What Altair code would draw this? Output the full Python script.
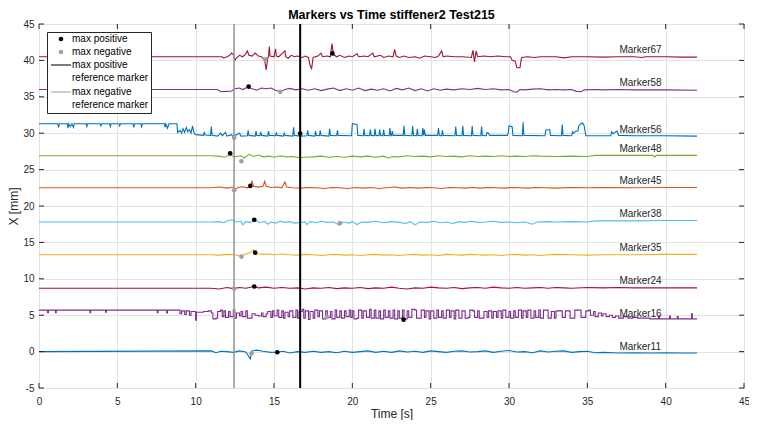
import altair as alt
import pandas as pd

FONT = "Liberation Sans, Arial, Helvetica, sans-serif"
W, H = 705, 364

MARKERS = ["Marker11", "Marker16", "Marker24", "Marker35", "Marker38",
           "Marker45", "Marker48", "Marker56", "Marker58", "Marker67"]
COLORS = ["#0072BD", "#7E2F8E", "#A2142F", "#EDB120", "#4DBEEE",
          "#D95319", "#77AC30", "#0072BD", "#7E2F8E", "#A2142F"]
LABEL_T = [37.05, 37.05, 37.05, 37.05, 37.05, 37.05, 37.05, 37.05, 37.05, 37.05]
LABEL_Y = [0.68, 5.19, 9.66, 14.18, 18.9, 23.44, 27.8, 30.4, 36.86, 41.4]

POS_T = [15.21, 23.27, 13.74, 13.80, 13.74, 13.49, 12.20, 16.67, 13.38, 18.73]
POS_Y = [-0.09, 4.38, 8.94, 13.59, 18.11, 22.76, 27.24, 29.95, 36.41, 40.96]
NEG_T = [13.57, 18.37, 12.46, 12.92, 19.21, 12.46, 12.92, 12.46, 15.40, 14.44]
NEG_Y = [-0.23, 4.74, 8.67, 13.05, 17.66, 22.18, 26.15, 29.36, 35.68, 40.15]

REF_POS_T = 16.67
REF_NEG_T = 12.45

KINDS = ["max positive", "max negative",
         "max positive|reference marker", "max negative|reference marker"]
KIND_COLORS = ["#000000", "#a0a0a0", "#000000", "#a0a0a0"]
LINE_PATH = "M-4.26,-0.22L4.26,-0.22L4.26,0.22L-4.26,0.22Z"
KIND_SHAPES = ["circle", "circle", LINE_PATH, LINE_PATH]

XTICKS = [0, 5, 10, 15, 20, 25, 30, 35, 40, 45]
YTICKS = [-5, 0, 5, 10, 15, 20, 25, 30, 35, 40, 45]

M11 = [(0, 0.0), (11.0, 0.1), (11.3, -0.15), (11.6, 0.05), (12.0, 0.0), (12.4, -0.1), (12.8, 0.1),
       (13.2, -0.05), (13.5, -1.0), (13.55, -0.2), (13.6, 0.1), (13.9, 0.2), (14.3, 0.05), (14.8, -0.1),
       (15.2, -0.05), (15.6, 0.05), (16.0, -0.2), (16.5, 0.0), (17.0, -0.1), (17.5, 0.05), (18.0, -0.1),
       (18.5, 0.0), (19.0, -0.15), (19.5, 0.05), (20.0, -0.1), (20.5, 0.0), (21.0, 0.1), (21.5, -0.1),
       (22.0, 0.05), (22.5, -0.1), (23.0, 0.1), (23.5, -0.05), (24.0, 0.05), (24.5, -0.1), (25.0, 0.1),
       (25.5, 0.0), (26.0, -0.1), (26.5, 0.05), (27.0, 0.1), (27.5, -0.05), (28.0, 0.0), (28.5, 0.1),
       (29.0, -0.1), (29.5, 0.05), (30.0, 0.15), (30.5, -0.05), (31.0, 0.0), (31.5, -0.15), (32.0, 0.1),
       (32.5, -0.05), (33.0, 0.05), (33.5, 0.1), (34.0, -0.1), (34.5, 0.0), (35.0, 0.05), (35.5, -0.15),
       (36.0, -0.1), (37.0, -0.2), (38.0, -0.15), (39.0, -0.2), (40.0, -0.15), (41.0, -0.2), (42.0, -0.2)]

M16 = [(0, 5.7), (0.5, 5.7), (0.55, 5.35), (0.6, 5.7), (1.0, 5.7), (1.05, 5.35), (1.1, 5.7), (3.2, 5.7),
       (3.25, 5.35), (3.3, 5.7), (4.2, 5.7), (4.25, 5.4), (4.3, 5.7), (7.5, 5.7), (7.55, 5.35), (7.6, 5.7),
       (8.1, 5.7), (8.15, 5.3), (8.2, 5.7), (8.8, 5.7), (9.0, 5.2), (9.1, 5.6), (9.3, 5.1), (9.4, 5.6),
       (9.6, 5.0), (9.7, 5.5), (9.9, 5.5), (10.0, 4.3), (10.05, 5.4), (10.5, 5.5), (10.8, 5.6), (11.0, 5.3),
       (11.1, 4.5), (11.3, 4.6), (11.4, 5.5), (11.6, 5.7), (11.7, 4.8), (11.8, 5.6), (11.9, 4.7), (12.1, 5.5),
       (12.2, 4.8), (12.4, 5.7), (12.5, 4.6), (12.6, 5.3), (12.8, 4.9), (12.9, 5.5), (13.0, 4.8), (13.2, 5.6),
       (13.3, 4.6), (13.5, 4.6), (13.6, 5.2), (13.8, 5.0), (14.0, 4.9), (14.2, 5.3), (14.3, 4.8), (14.5, 5.2),
       (14.6, 5.5), (14.8, 4.7), (14.9, 5.6), (15.0, 4.9), (15.2, 5.7), (15.3, 4.7), (15.5, 5.6), (15.6, 4.6),
       (15.7, 5.4), (15.9, 4.8), (16.0, 5.6), (16.2, 4.7), (16.4, 5.7), (16.5, 4.6), (16.6, 5.5), (16.8, 5.8),
       (16.9, 4.6), (17.0, 5.6), (17.2, 4.4), (17.3, 5.5), (17.5, 4.6), (17.6, 5.7), (17.8, 4.8), (17.9, 5.6),
       (18.1, 4.5), (18.3, 5.6), (18.4, 4.7), (18.6, 5.5), (18.7, 4.5), (18.9, 5.7), (19.0, 4.7), (19.2, 5.6),
       (19.3, 4.6), (19.5, 5.6), (19.6, 4.8), (19.8, 5.7), (19.9, 4.7), (20.0, 5.6), (20.1, 4.5), (20.3, 4.6),
       (20.4, 5.7), (20.6, 4.6), (20.7, 5.6), (20.9, 4.7), (21.1, 5.8), (21.2, 4.6), (21.4, 5.7), (21.5, 4.6),
       (21.7, 5.6), (21.8, 4.5), (22.0, 5.7), (22.1, 4.7), (22.3, 5.6), (22.4, 4.6), (22.6, 5.7), (22.7, 4.5),
       (22.9, 5.6), (23.0, 4.6), (23.2, 5.7), (23.3, 4.5), (23.5, 5.6), (23.6, 4.7), (23.8, 5.8), (24.0, 5.7),
       (24.1, 4.6), (24.3, 4.6), (24.4, 5.7), (24.6, 4.7), (24.7, 5.6), (24.9, 4.5), (25.0, 5.6), (25.2, 4.6),
       (25.4, 5.7), (25.5, 4.7), (25.7, 5.6), (25.8, 4.6), (26.0, 5.7), (26.2, 4.7), (26.3, 5.6), (26.5, 4.5),
       (26.6, 5.7), (26.8, 4.6), (27.0, 5.6), (27.1, 5.6), (27.2, 4.6), (27.4, 4.7), (27.5, 5.7), (27.7, 5.6),
       (27.8, 4.7), (28.0, 5.6), (28.1, 4.6), (28.3, 4.6), (28.4, 5.5), (28.6, 4.7), (28.7, 5.6), (28.9, 4.6),
       (29.0, 5.5), (29.2, 4.7), (29.3, 5.6), (29.5, 4.6), (29.6, 5.7), (29.8, 4.7), (30.0, 5.5), (30.1, 4.6),
       (30.3, 5.6), (30.4, 4.7), (30.6, 5.7), (30.8, 4.6), (30.9, 5.6), (31.1, 4.7), (31.2, 5.7), (31.4, 4.6),
       (31.6, 5.6), (31.7, 4.7), (31.9, 5.7), (32.0, 4.6), (32.2, 5.7), (32.4, 5.7), (32.5, 4.6), (32.7, 5.5),
       (32.9, 4.6), (33.0, 5.6), (33.3, 5.6), (33.4, 4.7), (33.6, 5.6), (33.8, 5.6), (33.9, 4.6), (34.1, 4.6),
       (34.2, 5.7), (34.5, 5.7), (34.6, 4.7), (34.8, 4.7), (34.9, 5.6), (35.1, 5.7), (35.2, 5.0), (35.4, 5.5),
       (35.5, 4.8), (35.7, 5.3), (35.9, 4.9), (36.0, 5.2), (36.2, 4.8), (36.4, 5.0), (36.6, 4.7), (36.8, 4.9),
       (37.0, 4.6), (37.3, 4.8), (37.6, 4.6), (37.9, 4.7), (38.2, 4.6), (38.5, 4.6), (39.0, 4.5), (39.5, 4.5),
       (39.55, 4.9), (39.6, 4.5), (40.2, 4.5), (40.25, 4.9), (40.3, 4.5), (40.7, 4.5), (40.75, 4.8), (40.8, 4.5),
       (41.6, 4.5), (41.65, 5.2), (41.7, 4.5), (42.0, 4.5)]

M24 = [(0, 8.7), (11.0, 8.7), (11.5, 8.6), (12.0, 8.8), (12.4, 8.65), (12.8, 8.8), (13.2, 8.7), (13.5, 8.85),
       (13.7, 8.95), (14.0, 8.75), (14.5, 8.85), (15.0, 8.7), (15.5, 8.8), (16.0, 8.7), (16.5, 8.75), (17.0, 8.6),
       (17.5, 8.75), (18.0, 8.7), (18.5, 8.8), (19.0, 8.65), (19.5, 8.75), (20.0, 8.7), (20.5, 8.8), (21.0, 8.65),
       (21.5, 8.75), (22.0, 8.7), (22.5, 8.85), (23.0, 8.7), (23.5, 8.6), (24.0, 8.75), (24.5, 8.7), (25.0, 8.85),
       (25.5, 8.75), (26.0, 8.7), (26.5, 8.8), (27.0, 8.65), (27.5, 8.75), (28.0, 8.8), (28.5, 8.7), (29.0, 8.85),
       (29.5, 8.75), (30.0, 8.7), (30.5, 8.8), (31.0, 8.7), (31.5, 8.75), (32.0, 8.8), (32.5, 8.7), (33.0, 8.8),
       (33.5, 8.75), (34.0, 8.7), (35.0, 8.8), (36.0, 8.75), (37.0, 8.8), (38.0, 8.75), (40.0, 8.75), (42.0, 8.75)]

M35 = [(0, 13.3), (11.0, 13.3), (11.5, 13.25), (12.0, 13.35), (12.5, 13.3), (12.9, 13.1), (13.1, 13.35),
       (13.5, 13.6), (13.7, 14.0), (13.8, 13.6), (14.0, 13.45), (14.3, 13.35), (14.7, 13.4), (15.0, 13.3),
       (15.5, 13.4), (16.0, 13.3), (16.5, 13.25), (17.0, 13.35), (17.5, 13.3), (18.0, 13.2), (18.5, 13.3),
       (19.0, 13.35), (19.5, 13.25), (20.0, 13.3), (20.5, 13.2), (21.0, 13.3), (21.5, 13.35), (22.0, 13.25),
       (22.5, 13.3), (23.0, 13.2), (23.5, 13.3), (24.0, 13.35), (24.5, 13.25), (25.0, 13.3), (25.5, 13.2),
       (26.0, 13.35), (26.5, 13.3), (27.0, 13.25), (27.5, 13.35), (28.0, 13.3), (28.5, 13.25), (29.0, 13.3),
       (29.5, 13.2), (30.0, 13.3), (30.5, 13.35), (31.0, 13.25), (31.5, 13.3), (32.0, 13.2), (32.5, 13.3),
       (33.0, 13.35), (34.0, 13.3), (35.0, 13.25), (36.0, 13.3), (38.0, 13.3), (40.0, 13.35), (42.0, 13.35)]

M38 = [(0, 17.8), (11.0, 17.8), (11.5, 17.85), (11.8, 17.7), (12.0, 17.95), (12.3, 18.1), (12.6, 17.8),
       (12.9, 17.9), (13.0, 17.4), (13.2, 17.85), (13.5, 17.75), (13.8, 18.1), (14.1, 17.7), (14.4, 17.9),
       (14.6, 17.5), (14.8, 17.8), (15.1, 17.65), (15.4, 17.9), (15.7, 17.75), (16.0, 17.85), (16.3, 17.65),
       (16.7, 17.75), (17.0, 17.8), (17.1, 17.45), (17.3, 17.85), (17.7, 17.7), (18.0, 17.9), (18.4, 17.75),
       (18.8, 17.8), (19.2, 17.35), (19.4, 17.8), (19.8, 17.65), (20.0, 17.85), (20.3, 17.45), (20.6, 17.8),
       (21.0, 17.75), (21.5, 17.9), (22.0, 17.7), (22.5, 17.85), (23.0, 17.75), (23.4, 17.6), (23.7, 17.85),
       (24.0, 17.4), (24.3, 17.8), (24.8, 17.75), (25.2, 17.9), (25.6, 17.7), (26.0, 17.8), (26.4, 17.6),
       (26.8, 17.85), (27.2, 17.75), (27.6, 17.9), (28.0, 17.75), (28.5, 17.8), (29.0, 17.9), (29.5, 17.75),
       (30.0, 17.8), (30.5, 17.7), (31.0, 17.8), (31.5, 17.5), (31.8, 17.8), (32.5, 17.85), (33.0, 17.8),
       (34.0, 17.85), (35.0, 17.8), (35.5, 17.95), (36.0, 17.95), (38.0, 17.95), (40.0, 18.0), (42.0, 18.0)]

M45 = [(0, 22.5), (11.0, 22.5), (11.5, 22.6), (12.0, 22.45), (12.4, 22.6), (12.5, 22.2), (12.7, 22.55),
       (13.0, 22.65), (13.3, 22.5), (13.5, 22.8), (13.6, 23.4), (13.7, 22.7), (14.0, 22.6), (14.3, 22.7),
       (14.4, 23.4), (14.5, 22.7), (14.8, 22.55), (15.2, 22.6), (15.5, 22.5), (15.7, 23.3), (15.8, 22.6),
       (16.2, 22.5), (16.7, 22.45), (17.2, 22.55), (17.7, 22.5), (18.2, 22.4), (18.7, 22.55), (19.2, 22.5),
       (19.7, 22.4), (20.2, 22.55), (20.7, 22.45), (21.2, 22.55), (21.7, 22.4), (22.2, 22.5), (22.7, 22.6),
       (23.2, 22.45), (23.7, 22.55), (24.2, 22.45), (24.7, 22.55), (25.2, 22.5), (25.7, 22.4), (26.2, 22.55),
       (26.7, 22.5), (27.2, 22.45), (27.7, 22.55), (28.2, 22.45), (28.7, 22.55), (29.2, 22.5), (29.7, 22.45),
       (30.2, 22.55), (30.7, 22.5), (31.2, 22.45), (31.7, 22.55), (32.2, 22.5), (33.0, 22.45), (34.0, 22.55),
       (35.0, 22.5), (36.0, 22.55), (38.0, 22.5), (40.0, 22.55), (42.0, 22.55)]

M48 = [(0, 26.9), (11.0, 26.9), (11.5, 26.85), (11.8, 26.7), (12.2, 27.0), (12.5, 26.75), (12.9, 26.9),
       (13.1, 26.6), (13.4, 27.1), (13.7, 26.8), (14.0, 27.0), (14.3, 26.75), (14.7, 26.85), (15.0, 26.7),
       (15.4, 26.9), (15.8, 26.75), (16.2, 26.8), (16.6, 26.65), (17.0, 26.7), (17.5, 26.75), (18.0, 26.85),
       (18.5, 26.7), (19.0, 26.8), (19.5, 26.7), (20.0, 26.85), (20.5, 26.75), (21.0, 26.85), (21.5, 26.7),
       (22.0, 26.85), (22.3, 26.6), (22.6, 26.8), (23.0, 26.75), (23.5, 26.9), (24.0, 26.8), (24.5, 26.85),
       (25.0, 26.75), (25.5, 26.9), (26.0, 26.8), (26.5, 26.85), (27.0, 26.75), (27.5, 26.9), (28.0, 26.8),
       (28.5, 26.85), (29.0, 26.8), (29.5, 26.9), (30.0, 26.8), (30.5, 26.85), (31.0, 26.8), (31.5, 26.9),
       (32.0, 26.85), (33.0, 26.8), (34.0, 26.85), (35.0, 26.8), (35.5, 26.95), (36.0, 26.95), (38.0, 26.95),
       (39.2, 26.95), (39.3, 26.7), (39.4, 26.95), (41.0, 26.95), (42.0, 26.95)]

M56 = [(0, 31.3), (1.2, 31.3), (1.25, 30.8), (1.3, 31.3), (1.8, 31.3), (1.85, 30.7), (1.9, 31.3), (2.0, 30.9),
       (2.1, 31.3), (2.2, 30.8), (2.25, 31.3), (3.0, 31.3), (3.05, 30.9), (3.1, 31.3), (3.9, 31.3), (3.95, 31.0),
       (4.0, 31.3), (4.5, 31.3), (4.55, 30.9), (4.6, 31.3), (5.1, 31.3), (5.15, 31.0), (5.2, 31.3), (6.0, 31.3),
       (6.05, 30.8), (6.1, 31.3), (6.5, 31.3), (6.55, 30.9), (6.6, 31.3), (8.0, 31.3), (8.05, 30.8), (8.1, 31.3),
       (8.2, 30.7), (8.3, 31.3), (8.8, 31.3), (8.85, 30.1), (9.0, 30.4), (9.1, 30.0), (9.2, 30.6), (9.3, 30.1),
       (9.4, 30.8), (9.5, 30.2), (9.6, 30.5), (9.7, 30.0), (9.8, 31.0), (9.9, 30.0), (10.0, 29.8), (10.5, 29.7),
       (10.55, 30.2), (10.6, 29.75), (10.95, 29.7), (11.0, 30.9), (11.05, 29.7), (11.4, 29.6), (11.6, 30.0),
       (11.7, 29.65), (11.9, 30.1), (12.0, 29.6), (12.3, 29.8), (12.4, 29.4), (12.5, 29.7), (12.8, 30.0),
       (12.9, 29.6), (13.3, 29.65), (13.35, 30.4), (13.4, 29.7), (13.8, 29.6), (13.85, 30.3), (13.9, 29.7),
       (14.1, 29.65), (14.15, 30.2), (14.2, 29.7), (14.6, 29.6), (14.65, 30.3), (14.7, 29.7), (15.1, 29.65),
       (15.15, 30.1), (15.2, 29.7), (15.6, 29.6), (15.65, 30.0), (15.7, 29.7), (16.2, 29.6), (16.25, 30.8),
       (16.3, 29.7), (16.7, 29.6), (17.1, 29.65), (17.15, 30.4), (17.2, 29.7), (17.6, 29.6), (17.65, 30.3),
       (17.7, 29.7), (17.9, 29.65), (17.95, 30.4), (18.0, 29.7), (18.5, 29.6), (18.55, 30.6), (18.6, 29.7),
       (19.0, 29.65), (19.05, 30.4), (19.1, 29.7), (19.95, 29.65), (20.0, 31.3), (20.3, 31.2), (20.35, 29.7),
       (20.7, 29.65), (20.75, 30.6), (20.8, 29.7), (21.1, 29.65), (21.15, 30.5), (21.2, 29.7), (21.4, 29.65),
       (21.45, 30.6), (21.5, 29.7), (21.7, 29.65), (21.75, 30.5), (21.8, 29.7), (21.95, 29.65), (22.0, 30.5),
       (22.05, 29.7), (22.35, 29.65), (22.4, 30.7), (22.45, 29.7), (22.5, 29.65), (22.55, 30.3), (22.6, 29.7),
       (23.25, 29.7), (23.3, 31.0), (23.35, 29.7), (23.8, 29.65), (23.85, 31.0), (23.9, 29.7), (24.1, 29.65),
       (24.15, 30.6), (24.2, 29.7), (24.45, 29.65), (24.5, 30.7), (24.55, 29.7), (24.6, 30.5), (24.65, 29.7),
       (25.45, 29.7), (25.5, 30.7), (25.55, 29.7), (25.7, 29.65), (25.75, 30.4), (25.8, 29.7), (26.55, 29.65),
       (26.6, 30.9), (26.65, 29.7), (27.0, 29.65), (27.05, 31.0), (27.1, 29.7), (27.6, 29.65), (27.65, 31.0),
       (27.7, 29.7), (28.2, 29.65), (28.25, 30.9), (28.3, 29.7), (28.55, 29.65), (28.6, 30.1), (28.7, 30.0),
       (28.75, 29.7), (29.9, 29.7), (29.95, 30.0), (30.0, 31.0), (30.2, 30.9), (30.25, 29.7), (30.85, 29.65),
       (30.9, 31.5), (30.95, 29.7), (32.3, 29.65), (32.35, 30.4), (32.6, 30.5), (32.65, 29.7), (33.35, 29.65),
       (33.4, 31.2), (33.45, 29.7), (34.0, 29.65), (34.05, 30.2), (34.1, 30.0), (34.3, 30.3), (34.4, 30.3),
       (34.45, 31.0), (34.6, 31.3), (34.7, 31.4), (34.8, 31.0), (34.9, 29.65), (36.5, 29.65), (36.55, 30.2),
       (36.65, 29.9), (36.75, 30.1), (36.9, 30.3), (37.0, 29.7), (38.0, 29.65), (40.0, 29.65), (42.0, 29.6)]

M58 = [(0, 36.0), (11.4, 36.0), (11.6, 35.7), (12.0, 35.75), (12.3, 35.8), (12.5, 36.1), (12.8, 36.2),
       (13.0, 36.0), (13.3, 36.3), (13.6, 36.1), (13.9, 35.9), (14.2, 36.2), (14.5, 36.1), (14.8, 36.2),
       (15.1, 35.9), (15.4, 35.7), (15.7, 36.0), (16.0, 36.15), (16.4, 35.95), (16.8, 36.1), (17.2, 35.9),
       (17.6, 36.1), (18.0, 35.85), (18.4, 36.05), (18.8, 36.2), (19.2, 35.85), (19.6, 36.1), (20.0, 35.9),
       (20.4, 36.2), (20.8, 35.85), (21.2, 36.05), (21.6, 35.9), (22.0, 36.1), (22.4, 35.8), (22.8, 36.15),
       (23.2, 35.95), (23.6, 36.2), (24.0, 35.85), (24.4, 36.1), (24.8, 35.8), (25.2, 36.1), (25.6, 35.9),
       (26.0, 36.05), (26.5, 35.95), (27.0, 36.1), (27.5, 36.0), (28.0, 36.15), (28.5, 36.0), (29.0, 36.1),
       (29.5, 35.95), (30.0, 36.0), (30.3, 35.7), (30.5, 35.65), (30.7, 36.0), (31.0, 35.95), (31.5, 36.05),
       (32.0, 36.1), (32.5, 35.95), (33.0, 36.0), (33.5, 35.95), (34.0, 36.0), (34.3, 35.75), (34.6, 35.7),
       (34.8, 35.95), (35.5, 36.0), (36.0, 35.95), (37.0, 36.0), (38.0, 35.95), (40.0, 35.95), (42.0, 35.9)]

M67 = [(0, 40.5), (11.7, 40.5), (11.8, 40.3), (12.0, 40.5), (12.1, 40.6), (12.3, 41.0), (12.4, 40.8),
       (12.5, 40.0), (12.6, 40.3), (12.8, 40.7), (13.0, 40.5), (13.2, 40.9), (13.3, 41.3), (13.4, 40.7),
       (13.6, 40.6), (13.8, 41.0), (14.0, 40.6), (14.2, 40.5), (14.4, 40.1), (14.5, 38.7), (14.6, 40.3),
       (14.65, 40.6), (14.7, 41.9), (14.75, 40.6), (15.0, 40.5), (15.1, 41.6), (15.15, 40.6), (15.3, 40.5),
       (15.5, 40.9), (15.7, 41.3), (15.75, 40.5), (15.9, 40.3), (16.1, 40.7), (16.3, 40.5), (16.5, 40.6),
       (16.8, 40.4), (17.0, 40.6), (17.2, 40.4), (17.3, 39.3), (17.4, 38.9), (17.5, 40.4), (17.8, 40.6),
       (18.0, 41.0), (18.1, 40.5), (18.4, 40.6), (18.6, 40.5), (18.7, 42.3), (18.8, 40.8), (19.0, 40.5),
       (19.2, 40.7), (19.5, 40.4), (19.8, 40.6), (20.0, 40.5), (20.3, 40.9), (20.4, 40.5), (20.8, 40.6),
       (21.0, 40.5), (21.3, 41.0), (21.4, 40.5), (21.8, 40.7), (22.0, 40.4), (22.3, 40.6), (22.6, 40.5),
       (22.7, 41.5), (22.8, 40.6), (23.0, 40.4), (23.3, 40.6), (23.6, 40.4), (24.0, 40.5), (24.3, 40.3),
       (24.6, 40.6), (25.0, 40.5), (25.3, 40.4), (25.5, 40.6), (25.7, 41.3), (25.8, 40.5), (26.0, 40.6),
       (26.5, 40.5), (27.0, 40.5), (27.6, 40.4), (27.7, 41.4), (27.8, 39.8), (27.9, 41.3), (28.0, 40.5),
       (28.4, 40.6), (28.8, 40.5), (29.3, 40.6), (29.8, 40.5), (30.1, 40.5), (30.2, 40.0), (30.4, 39.9),
       (30.5, 39.0), (30.7, 39.0), (30.8, 40.4), (31.2, 40.5), (31.6, 40.4), (32.0, 40.5), (33.0, 40.5),
       (33.5, 40.35), (34.0, 40.5), (35.0, 40.5), (36.0, 40.45), (37.0, 40.5), (38.0, 40.5), (38.5, 40.4),
       (38.7, 40.5), (40.0, 40.5), (41.0, 40.45), (42.0, 40.45)]

SMOOTH_SERIES = [M11, M24, M35, M38, M45, M48, M56, M58, M67]
SMOOTH_NAMES = ["Marker11", "Marker24", "Marker35", "Marker38", "Marker45",
                "Marker48", "Marker56", "Marker58", "Marker67"]

# ---------- tables ----------
rows = []
for name, pts in zip(SMOOTH_NAMES, SMOOTH_SERIES):
    for t, v in pts:
        rows.append({"marker": name, "t": t, "v": v})
lines_df = pd.DataFrame(rows)
step_df = pd.DataFrame([{"marker": "Marker16", "t": t, "v": v} for t, v in M16])

labels_df = pd.DataFrame({"marker": MARKERS, "t": LABEL_T, "v": LABEL_Y})

pts_df = pd.DataFrame({
    "kind": [KINDS[0]] * len(POS_T) + [KINDS[1]] * len(NEG_T),
    "t": POS_T + NEG_T,
    "v": POS_Y + NEG_Y,
})

xscale = alt.Scale(domain=[0, 45], nice=False, zero=False)
yscale = alt.Scale(domain=[-5, 45], nice=False, zero=False)

x_axis = alt.Axis(values=XTICKS, title="Time [s]", labelPadding=8, titlePadding=2,
                  labelFlush=False, labelOverlap=False, labelExpr="'' + datum.value")
y_axis = alt.Axis(values=YTICKS, title="X [mm]", labelPadding=5, titlePadding=2,
                  labelFlush=False, labelOverlap=False, labelExpr="'' + datum.value")

X = alt.X("t:Q", scale=xscale, axis=x_axis)
Y = alt.Y("v:Q", scale=yscale, axis=y_axis)
stroke_enc = alt.Stroke("marker:N", scale=alt.Scale(domain=MARKERS, range=COLORS), legend=None)

lines = alt.Chart(lines_df).mark_line(strokeWidth=1.1).encode(
    x=X, y=Y, stroke=stroke_enc, order=alt.Order("t:Q"))
steps = alt.Chart(step_df).mark_line(strokeWidth=1.1, interpolate="step-after").encode(
    x=X, y=Y, stroke=stroke_enc, order=alt.Order("t:Q"))

ref_neg = alt.Chart(pd.DataFrame({"t": [REF_NEG_T]})).mark_rule(
    color="#999999", strokeWidth=1.6).encode(x=X)
ref_pos = alt.Chart(pd.DataFrame({"t": [REF_POS_T]})).mark_rule(
    color="#000000", strokeWidth=2).encode(x=X)

leg = alt.Legend(title=None, orient="none", legendX=8, legendY=8, padding=2,
                 strokeColor="#262626", fillColor="white", cornerRadius=0,
                 labelFont=FONT, labelFontSize=10, labelColor="#000000",
                 labelExpr="split(datum.label, '|')", labelOffset=6, rowPadding=3,
                 symbolSize=22, symbolOffset=7, symbolStrokeWidth=0)

points = alt.Chart(pts_df).mark_point(filled=True, size=22, opacity=1).encode(
    x=X, y=Y,
    color=alt.Color("kind:N", scale=alt.Scale(domain=KINDS, range=KIND_COLORS), legend=leg),
    shape=alt.Shape("kind:N", scale=alt.Scale(domain=KINDS, range=KIND_SHAPES), legend=leg),
)

texts = alt.Chart(labels_df).mark_text(align="left", baseline="middle", font=FONT,
                                       fontSize=10, color="#262626").encode(
    x=X, y=Y, text="marker:N")

xt_df = pd.DataFrame({"t": XTICKS})
yt_df = pd.DataFrame({"v": YTICKS})
tick_col = "#262626"
xt_bottom = alt.Chart(xt_df).mark_rule(color=tick_col, strokeWidth=1).encode(
    x=X, y=alt.value(H), y2=alt.value(H - 5))
xt_top = alt.Chart(xt_df).mark_rule(color=tick_col, strokeWidth=1).encode(
    x=X, y=alt.value(0), y2=alt.value(5))
yt_left = alt.Chart(yt_df).mark_rule(color=tick_col, strokeWidth=1).encode(
    y=Y, x=alt.value(0), x2=alt.value(5))
yt_right = alt.Chart(yt_df).mark_rule(color=tick_col, strokeWidth=1).encode(
    y=Y, x=alt.value(W), x2=alt.value(W - 5))

chart = alt.layer(
    lines, steps, ref_neg, ref_pos, points, texts, xt_bottom, xt_top, yt_left, yt_right
).properties(
    width=W, height=H,
    autosize=alt.AutoSizeParams(type="none"),
    padding={"left": 31, "top": 16, "right": 5, "bottom": 32},
    title=alt.TitleParams("Markers vs Time stiffener2 Test215", font=FONT, fontSize=12.5,
                          fontWeight="bold", color="#000000", anchor="middle", offset=-2,
                          frame="group"),
).configure(
    style={"guide-label": {"lineHeight": 13.3}}
).configure_view(
    stroke="#262626", strokeWidth=1
).configure_axis(
    domain=False, ticks=False, grid=True, gridColor="#e2e2e2", gridWidth=1,
    labelFont=FONT, labelFontSize=10, labelColor="#262626",
    titleFont=FONT, titleFontSize=12, titleFontWeight="normal", titleColor="#262626",
)

chart.save("out.html", embed_options={"renderer": "svg", "actions": False})
